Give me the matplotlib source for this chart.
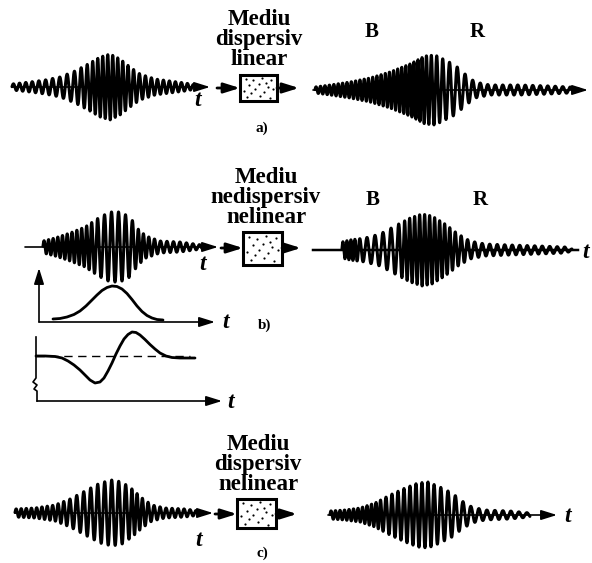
import numpy as np
import matplotlib
matplotlib.use('Agg')
import matplotlib.pyplot as plt
from matplotlib.patches import Rectangle

# ---------- fonts ----------
plt.rcParams['font.family'] = 'Liberation Serif'
plt.rcParams['font.weight'] = 'bold'

# ---------- wave packets: envelope (x, amplitude) and local period (x, px) ----------
# a) input
wa_in_env_x = [12, 30, 45, 60, 75, 90, 100, 110, 120, 130, 140, 155, 170, 185, 196]
wa_in_env_a = [3, 5, 7, 10, 16, 24, 30, 33, 28, 20, 13, 8, 6, 4, 2]
wa_in_per_x = [12, 70, 95, 120, 140, 196]
wa_in_per_p = [6, 7.5, 5, 5, 6, 6]
# a) output
wa_out_env_x = [315, 330, 350, 370, 390, 410, 425, 435, 445, 455, 465, 475, 490, 520, 550, 570, 580]
wa_out_env_a = [3, 5, 8, 12, 18, 26, 34, 35, 30, 25, 16, 8, 5, 5, 4, 3, 1]
wa_out_per_x = [315, 420, 440, 455, 475, 580]
wa_out_per_p = [4.5, 4.0, 6, 8, 7.5, 7.5]
# b) input
wb_in_env_x = [43, 55, 70, 85, 100, 110, 120, 130, 138, 146, 160, 180, 202]
wb_in_env_a = [6, 9, 14, 20, 30, 35, 35, 30, 18, 11, 6, 5, 2]
wb_in_per_x = [43, 90, 100, 130, 140, 165, 202]
wb_in_per_p = [4.5, 5, 7, 7, 5, 6.5, 6.5]
# b) output
wb_out_env_x = [342, 350, 365, 380, 395, 410, 422, 432, 445, 458, 470, 485, 510, 540, 565, 572]
wb_out_env_a = [8, 10, 12, 16, 24, 32, 36, 34, 26, 16, 9, 6, 5, 4, 3, 1]
wb_out_per_x = [342, 355, 365, 395, 405, 445, 460, 475, 572]
wb_out_per_p = [4, 4, 8, 8, 5, 5, 6, 7.5, 7.5]
# c) input
wc_in_env_x = [15, 35, 55, 70, 85, 100, 112, 122, 132, 142, 152, 165, 185, 200]
wc_in_env_a = [4, 5, 8, 14, 22, 30, 33, 31, 24, 15, 8, 5, 4, 2]
wc_in_per_x = [15, 60, 75, 125, 135, 150, 200]
wc_in_per_p = [5, 5.5, 7, 7, 5, 6, 6]
# c) output
wc_out_env_x = [330, 345, 360, 375, 390, 405, 418, 428, 440, 452, 462, 472, 485, 510, 530]
wc_out_env_a = [4, 5, 7, 12, 20, 27, 32, 33, 28, 22, 14, 8, 5, 4, 2]
wc_out_per_x = [330, 380, 385, 430, 440, 470, 530]
wc_out_per_p = [4.5, 4.5, 6, 6, 7, 8, 8]

# ---------- b) lower sketches ----------
bell_x = [53, 60, 67, 74, 80, 86, 92, 97, 102, 107, 112, 117, 122, 127, 132, 137, 142, 147, 152, 157, 163]
bell_y = [319, 318.5, 317, 314.5, 311, 306, 300, 295, 290.5, 287.5, 286, 286.5, 289, 293.5, 299.5, 306,
          311.5, 315.5, 318, 319.5, 320]
dv_x = [36, 45, 55, 62, 68, 74, 80, 85, 90, 95, 100, 104, 108, 112, 116, 120, 124, 128, 132, 136, 140,
        145, 150, 155, 160, 166, 172, 180, 188, 195]
dv_y = [356, 356, 356.5, 358, 361, 365, 370, 375, 380, 383, 382, 378, 371, 363, 354, 346, 339, 334.5,
        332, 332.5, 335, 339.5, 344.5, 349, 353, 356, 357.5, 358, 358, 358]

# dots inside the "medium" boxes (fraction of box)
dot_fx = [0.15, 0.35, 0.6, 0.85, 0.25, 0.5, 0.75, 0.1, 0.4, 0.65, 0.9, 0.2, 0.55, 0.8, 0.3, 0.7]
dot_fy = [0.15, 0.2, 0.12, 0.18, 0.4, 0.35, 0.45, 0.6, 0.55, 0.65, 0.55, 0.85, 0.8, 0.88, 0.7, 0.3]

# medium labels
labels_a = ['Mediu', 'dispersiv', 'linear']
labels_b = ['Mediu', 'nedispersiv', 'nelinear']
labels_c = ['Mediu', 'dispersiv', 'nelinear']

fig = plt.figure(figsize=(5.92, 5.63), dpi=100)
ax = fig.add_axes([0, 0, 1, 1])
ax.set_xlim(0, 592)
ax.set_ylim(563, 0)
ax.axis('off')

LW_WAVE = 2.2
LW_AX = 1.2


def arrow(x0, y0, x1, y1, lw=1.5, scale=12):
    ax.annotate('', xy=(x1, y1), xytext=(x0, y0),
                arrowprops=dict(arrowstyle='-|>,head_length=0.8,head_width=0.25',
                                lw=lw, color='k', mutation_scale=scale,
                                shrinkA=0, shrinkB=0))


def wave(env_x, env_a, per_x, per_p, y0, x_start, x_end, head=True):
    # baseline through the packet
    if head:
        arrow(x_start, y0, x_end, y0, lw=LW_AX)
    else:
        ax.plot([x_start, x_end], [y0, y0], color='k', lw=LW_AX + 0.6)
    x = np.arange(env_x[0], env_x[-1], 0.1)
    p = np.interp(x, per_x, per_p)
    phase = 2 * np.pi * np.cumsum(0.1 / p)
    y = y0 - np.interp(x, env_x, env_a) * np.sin(phase)
    ax.plot(x, y, color='k', lw=LW_WAVE, solid_joinstyle='round', solid_capstyle='round')


def medium(x0, y0, x1, y1, yc, lines, tx, ty, ax_l, ax_r):
    ax.add_patch(Rectangle((x0, y0), x1 - x0, y1 - y0, fill=False, lw=2.2, ec='k'))
    ax.scatter(x0 + np.array(dot_fx) * (x1 - x0), y0 + np.array(dot_fy) * (y1 - y0),
               s=2.5, c='k', lw=0)
    arrow(ax_l, yc, x0, yc, lw=2, scale=12)
    arrow(x1, yc, ax_r, yc, lw=2, scale=12)
    for i, s in enumerate(lines):
        ax.text(tx, ty + i * 20, s, ha='center', va='baseline', fontsize=16.5)


def tlabel(x, y, size=17):
    ax.text(x, y, 't', ha='center', va='center', fontsize=size, style='italic')


# ---------- a) ----------
wave(wa_in_env_x, wa_in_env_a, wa_in_per_x, wa_in_per_p, 87, 12, 210)
tlabel(198, 100)
medium(240, 75, 277, 101, 88, labels_a, 259, 25, 217, 299)
wave(wa_out_env_x, wa_out_env_a, wa_out_per_x, wa_out_per_p, 90, 313, 588)
ax.text(372, 32, 'B', ha='center', va='center', fontsize=15)
ax.text(477, 32, 'R', ha='center', va='center', fontsize=15)
ax.text(262, 128, 'a)', ha='center', va='center', fontsize=11)

# ---------- b) ----------
wave(wb_in_env_x, wb_in_env_a, wb_in_per_x, wb_in_per_p, 247, 25, 218)
tlabel(203, 264)
medium(243, 232, 282, 265, 248, labels_b, 266, 183, 221, 301)
wave(wb_out_env_x, wb_out_env_a, wb_out_per_x, wb_out_per_p, 250, 313, 578, head=False)
tlabel(586, 253)
ax.text(373, 200, 'B', ha='center', va='center', fontsize=15)
ax.text(480, 200, 'R', ha='center', va='center', fontsize=15)
ax.text(265, 325, 'b)', ha='center', va='center', fontsize=11)

# intensity envelope
arrow(39, 322, 39, 268, lw=LW_AX, scale=12)
arrow(39, 322, 215, 322, lw=LW_AX, scale=12)
ax.plot(bell_x, bell_y, color='k', lw=2, solid_capstyle='round')
tlabel(226, 323)

# phase derivative sketch
ax.plot([36, 36, 33, 37, 34, 37, 37], [337, 378, 382, 385, 389, 391, 401], color='k', lw=LW_AX)
arrow(37, 401, 222, 401, lw=LW_AX, scale=12)
ax.plot([36, 190], [356, 356], color='k', lw=1, dashes=(6, 4))
ax.plot(dv_x, dv_y, color='k', lw=2, solid_capstyle='round')
tlabel(231, 402)

# ---------- c) ----------
wave(wc_in_env_x, wc_in_env_a, wc_in_per_x, wc_in_per_p, 513, 15, 213)
tlabel(199, 540)
medium(237, 499, 276, 528, 514, labels_c, 258, 450, 215, 297)
wave(wc_out_env_x, wc_out_env_a, wc_out_per_x, wc_out_per_p, 515, 328, 557)
tlabel(568, 517)
ax.text(262, 553, 'c)', ha='center', va='center', fontsize=11)

plt.savefig('out.png', dpi=100)
